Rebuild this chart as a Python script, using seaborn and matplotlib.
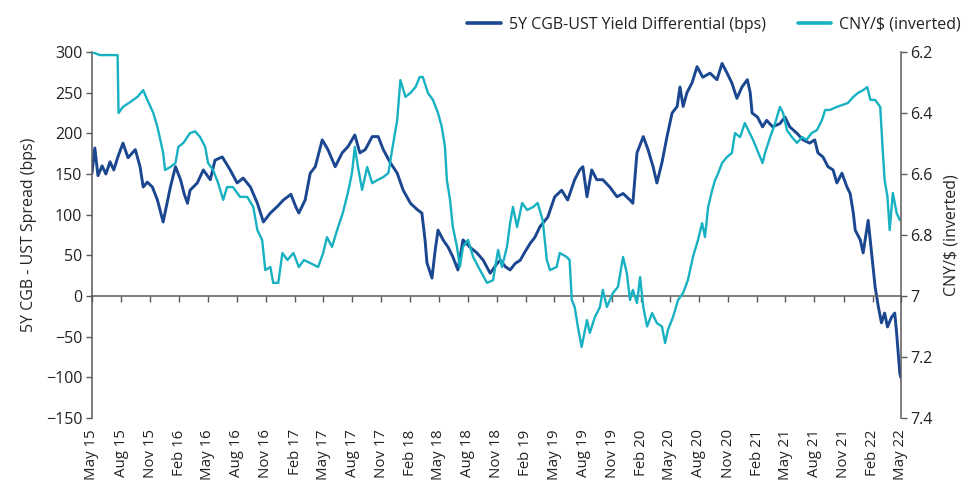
import pandas as pd
import matplotlib
matplotlib.use("Agg")
import matplotlib.pyplot as plt
import matplotlib.dates as mdates
import seaborn as sns

# ---------------------------------------------------------------------------
# DATA
# ---------------------------------------------------------------------------
spread_dates = [
    "2015-05-01", "2015-05-10", "2015-05-20", "2015-06-02", "2015-06-14", "2015-06-27",
    "2015-07-09", "2015-07-21", "2015-08-07", "2015-08-23", "2015-09-15", "2015-09-30",
    "2015-10-10", "2015-10-23", "2015-11-08", "2015-11-24", "2015-12-12", "2015-12-25",
    "2016-01-04", "2016-01-20", "2016-02-05", "2016-02-17", "2016-02-27", "2016-03-06",
    "2016-03-29", "2016-04-17", "2016-05-09", "2016-05-24", "2016-06-16", "2016-07-11",
    "2016-08-02", "2016-08-21", "2016-09-13", "2016-10-05", "2016-10-24", "2016-11-15",
    "2016-12-07", "2016-12-26", "2017-01-19", "2017-02-03", "2017-02-13", "2017-03-05",
    "2017-03-21", "2017-04-06", "2017-04-28", "2017-05-16", "2017-06-08", "2017-06-30",
    "2017-07-19", "2017-08-09", "2017-08-25", "2017-09-11", "2017-10-03", "2017-10-22",
    "2017-11-07", "2017-11-29", "2017-12-21", "2018-01-09", "2018-02-01", "2018-02-23",
    "2018-03-09", "2018-03-19", "2018-03-25", "2018-04-10", "2018-04-19", "2018-04-29",
    "2018-05-15", "2018-05-31", "2018-06-15", "2018-07-01", "2018-07-17", "2018-08-08",
    "2018-08-30", "2018-09-19", "2018-10-11", "2018-11-02", "2018-11-12", "2018-11-28",
    "2018-12-13", "2018-12-29", "2019-01-14", "2019-01-30", "2019-02-15", "2019-03-01",
    "2019-03-17", "2019-04-11", "2019-05-03", "2019-05-25", "2019-06-13", "2019-07-05",
    "2019-07-21", "2019-07-31", "2019-08-13", "2019-08-28", "2019-09-13", "2019-10-02",
    "2019-10-24", "2019-11-16", "2019-12-05", "2019-12-27", "2020-01-05", "2020-01-18",
    "2020-02-07", "2020-02-22", "2020-03-09", "2020-03-21", "2020-04-06", "2020-04-22",
    "2020-05-08", "2020-05-24", "2020-06-02", "2020-06-12", "2020-06-24", "2020-07-10",
    "2020-07-26", "2020-08-13", "2020-09-05", "2020-09-27", "2020-10-13", "2020-10-29",
    "2020-11-13", "2020-11-29", "2020-12-15", "2021-01-01", "2021-01-10", "2021-01-16",
    "2021-02-02", "2021-02-18", "2021-03-03", "2021-03-22", "2021-04-14", "2021-04-30",
    "2021-05-15", "2021-06-07", "2021-06-26", "2021-07-17", "2021-08-02", "2021-08-12",
    "2021-08-28", "2021-09-13", "2021-09-29", "2021-10-11", "2021-10-27", "2021-11-12",
    "2021-11-22", "2021-12-02", "2021-12-08", "2021-12-24", "2022-01-02", "2022-01-15",
    "2022-01-18", "2022-02-01", "2022-02-09", "2022-02-19", "2022-03-01", "2022-03-11",
    "2022-03-20", "2022-04-02", "2022-04-12", "2022-04-18", "2022-04-28", "2022-05-01",
]
spread_bps = [
    151, 182, 148, 160, 150, 165,
    155, 170, 188, 170, 180, 159,
    134, 140, 134, 118, 91, 115,
    134, 159, 143, 125, 114, 130,
    139, 155, 143, 167, 171, 155,
    139, 145, 134, 114, 91, 102,
    110, 118, 125, 110, 102, 118,
    151, 159, 192, 180, 159, 176,
    184, 198, 176, 180, 196, 196,
    180, 164, 151, 130, 114, 106,
    102, 69, 41, 22, 53, 81,
    69, 60, 48, 32, 69, 60,
    53, 44, 28, 40, 44, 36,
    32, 40, 44, 55, 65, 72,
    85, 97, 122, 130, 118, 143,
    155, 159, 122, 155, 143, 143,
    134, 122, 126, 118, 114, 176,
    196, 180, 159, 139, 164, 196,
    225, 233, 257, 233, 250, 262,
    282, 269, 274, 266, 286, 274,
    262, 243, 257, 266, 250, 225,
    220, 208, 216, 208, 212, 220,
    208, 200, 192, 188, 192, 176,
    171, 159, 155, 139, 151, 134,
    126, 102, 81, 69, 53, 85,
    93, 41, 11, -13, -33, -21,
    -38, -26, -21, -46, -95, -100,
]

cny_dates = [
    "2015-05-01", "2015-05-26", "2015-06-21", "2015-07-21", "2015-07-24", "2015-08-07",
    "2015-08-30", "2015-09-22", "2015-10-10", "2015-10-23", "2015-11-11", "2015-11-24",
    "2015-12-03", "2015-12-12", "2015-12-18", "2016-01-04", "2016-01-20", "2016-01-29",
    "2016-02-14", "2016-03-06", "2016-03-22", "2016-04-07", "2016-04-23", "2016-05-02",
    "2016-05-18", "2016-06-03", "2016-06-19", "2016-07-01", "2016-07-20", "2016-08-11",
    "2016-09-03", "2016-09-22", "2016-10-05", "2016-10-20", "2016-10-30", "2016-11-15",
    "2016-11-24", "2016-12-10", "2016-12-23", "2017-01-08", "2017-01-27", "2017-02-13",
    "2017-03-01", "2017-03-21", "2017-04-15", "2017-05-01", "2017-05-13", "2017-05-29",
    "2017-06-14", "2017-07-02", "2017-07-18", "2017-07-31", "2017-08-09", "2017-08-19",
    "2017-09-01", "2017-09-17", "2017-10-03", "2017-10-19", "2017-11-07", "2017-11-23",
    "2017-12-05", "2017-12-21", "2017-12-31", "2018-01-16", "2018-02-01", "2018-02-17",
    "2018-03-02", "2018-03-12", "2018-03-28", "2018-04-13", "2018-04-29", "2018-05-11",
    "2018-05-21", "2018-05-27", "2018-06-06", "2018-06-15", "2018-06-28", "2018-07-07",
    "2018-07-17", "2018-08-02", "2018-08-18", "2018-09-09", "2018-10-01", "2018-10-20",
    "2018-11-05", "2018-11-17", "2018-12-03", "2018-12-13", "2018-12-22", "2019-01-04",
    "2019-01-20", "2019-02-05", "2019-02-24", "2019-03-10", "2019-03-26", "2019-04-08",
    "2019-04-18", "2019-05-09", "2019-05-19", "2019-06-10", "2019-06-19", "2019-06-26",
    "2019-07-05", "2019-07-15", "2019-07-27", "2019-08-13", "2019-08-22", "2019-09-07",
    "2019-09-23", "2019-10-02", "2019-10-15", "2019-11-03", "2019-11-19", "2019-12-05",
    "2019-12-17", "2019-12-27", "2020-01-05", "2020-01-18", "2020-01-28", "2020-02-07",
    "2020-02-19", "2020-03-06", "2020-03-21", "2020-04-06", "2020-04-16", "2020-04-25",
    "2020-05-11", "2020-05-27", "2020-06-12", "2020-06-27", "2020-07-13", "2020-07-29",
    "2020-08-11", "2020-08-20", "2020-08-30", "2020-09-12", "2020-09-21", "2020-10-01",
    "2020-10-13", "2020-10-29", "2020-11-13", "2020-11-23", "2020-12-09", "2020-12-24",
    "2021-01-04", "2021-01-19", "2021-02-05", "2021-02-18", "2021-02-26", "2021-03-14",
    "2021-03-30", "2021-04-14", "2021-04-24", "2021-05-06", "2021-05-22", "2021-06-07",
    "2021-06-23", "2021-07-07", "2021-07-23", "2021-08-09", "2021-08-25", "2021-09-04",
    "2021-09-19", "2021-10-11", "2021-10-27", "2021-11-15", "2021-12-02", "2021-12-17",
    "2022-01-02", "2022-01-15", "2022-01-25", "2022-02-09", "2022-02-25", "2022-03-05",
    "2022-03-11", "2022-03-20", "2022-03-27", "2022-04-06", "2022-04-18", "2022-04-28",
]
cny_rate = [
    6.200, 6.210, 6.210, 6.210, 6.400, 6.380,
    6.364, 6.347, 6.325, 6.357, 6.400, 6.446,
    6.488, 6.530, 6.587, 6.577, 6.564, 6.511,
    6.498, 6.466, 6.460, 6.479, 6.511, 6.564,
    6.587, 6.630, 6.685, 6.643, 6.643, 6.675,
    6.675, 6.708, 6.784, 6.816, 6.915, 6.905,
    6.957, 6.957, 6.859, 6.882, 6.859, 6.905,
    6.882, 6.892, 6.905, 6.859, 6.807, 6.839,
    6.784, 6.728, 6.662, 6.597, 6.511, 6.577,
    6.652, 6.577, 6.630, 6.620, 6.610, 6.597,
    6.521, 6.423, 6.292, 6.347, 6.334, 6.315,
    6.282, 6.282, 6.334, 6.357, 6.400, 6.446,
    6.511, 6.620, 6.685, 6.774, 6.839, 6.905,
    6.839, 6.816, 6.872, 6.915, 6.957, 6.948,
    6.849, 6.905, 6.839, 6.761, 6.708, 6.774,
    6.695, 6.718, 6.708, 6.695, 6.751, 6.882,
    6.915, 6.905, 6.859, 6.872, 6.882, 7.013,
    7.036, 7.100, 7.167, 7.079, 7.121, 7.069,
    7.036, 6.980, 7.036, 6.990, 6.970, 6.872,
    6.925, 7.013, 6.980, 7.023, 6.938, 7.036,
    7.100, 7.056, 7.089, 7.100, 7.154, 7.111,
    7.069, 7.013, 6.990, 6.948, 6.872, 6.816,
    6.761, 6.807, 6.708, 6.652, 6.620, 6.597,
    6.564, 6.544, 6.531, 6.466, 6.479, 6.433,
    6.456, 6.488, 6.531, 6.564, 6.531, 6.479,
    6.433, 6.380, 6.400, 6.456, 6.479, 6.498,
    6.479, 6.488, 6.466, 6.456, 6.423, 6.390,
    6.390, 6.380, 6.374, 6.367, 6.347, 6.334,
    6.325, 6.315, 6.357, 6.357, 6.380, 6.521,
    6.620, 6.675, 6.784, 6.662, 6.728, 6.751,
]

tick_dates = pd.date_range("2015-05-01", "2022-05-01", freq="3MS")
left_ticks = [-150, -100, -50, 0, 50, 100, 150, 200, 250, 300]
right_ticks = [6.2, 6.4, 6.6, 6.8, 7.0, 7.2, 7.4]
right_tick_labels = ["6.2", "6.4", "6.6", "6.8", "7", "7.2", "7.4"]

BLUE = "#1b4690"
CYAN = "#17b1c2"
GREY = "#5a5a5a"
FS = 11.5

spread = pd.DataFrame({"Date": pd.to_datetime(spread_dates), "Spread": spread_bps})
cny = pd.DataFrame({"Date": pd.to_datetime(cny_dates), "CNY": cny_rate})

# ---------------------------------------------------------------------------
# PLOT
# ---------------------------------------------------------------------------
sns.set_style("white")
plt.rcParams["font.family"] = ["Open Sans", "DejaVu Sans"]
plt.rcParams["text.color"] = "#222222"

fig = plt.figure(figsize=(9.64, 4.83), dpi=100)
ax = fig.add_axes([0.0954, 0.1346, 0.839, 0.7577])
ax2 = ax.twinx()

sns.lineplot(data=spread, x="Date", y="Spread", ax=ax, color=BLUE, linewidth=2.1,
             label="5Y CGB-UST Yield Differential (bps)", legend=False)
sns.lineplot(data=cny, x="Date", y="CNY", ax=ax2, color=CYAN, linewidth=1.7,
             label="CNY/$ (inverted)", legend=False)

ax.set_xlim(pd.Timestamp("2015-05-01"), pd.Timestamp("2022-05-01"))
ax.set_ylim(-150, 300)
ax2.set_ylim(7.4, 6.2)

ax.set_yticks(left_ticks)
ax2.set_yticks(right_ticks)
ax2.set_yticklabels(right_tick_labels)

ax.set_xticks(tick_dates)
ax.xaxis.set_major_formatter(mdates.DateFormatter("%b %y"))

for a in (ax, ax2):
    a.spines["top"].set_visible(False)
    for s in ("left", "right", "bottom"):
        a.spines[s].set_color(GREY)
        a.spines[s].set_linewidth(1.1)
    a.grid(False)

# x axis line sits on zero, its labels stay at the bottom
ax.spines["bottom"].set_position(("data", 0))
ax2.spines["bottom"].set_visible(False)
ax.spines["right"].set_visible(False)
ax2.spines["left"].set_visible(False)

ax.tick_params(axis="y", direction="out", length=4, width=1.0, color=GREY,
               labelsize=FS, labelcolor="#222222", pad=3, left=True)
ax2.tick_params(axis="y", direction="out", length=4, width=1.0, color=GREY,
                labelsize=FS, labelcolor="#222222", pad=3, right=True)
ax.tick_params(axis="x", direction="out", length=4, width=1.0, color=GREY,
               labelsize=10.8, labelcolor="#222222", pad=92, bottom=True,
               labelrotation=90)

ax.set_xlabel("")
ax.set_ylabel("5Y CGB - UST Spread (bps)", fontsize=FS, labelpad=6)
ax2.set_ylabel("CNY/$ (inverted)", fontsize=FS, labelpad=8)

fig.legend(loc="upper right", bbox_to_anchor=(1.012, 0.995), ncol=2, frameon=False,
           fontsize=FS, handlelength=2.1, columnspacing=2.0, handletextpad=0.5)
for line in fig.legends[0].get_lines():
    line.set_linewidth(2.6)

fig.savefig("out.png", dpi=100)
